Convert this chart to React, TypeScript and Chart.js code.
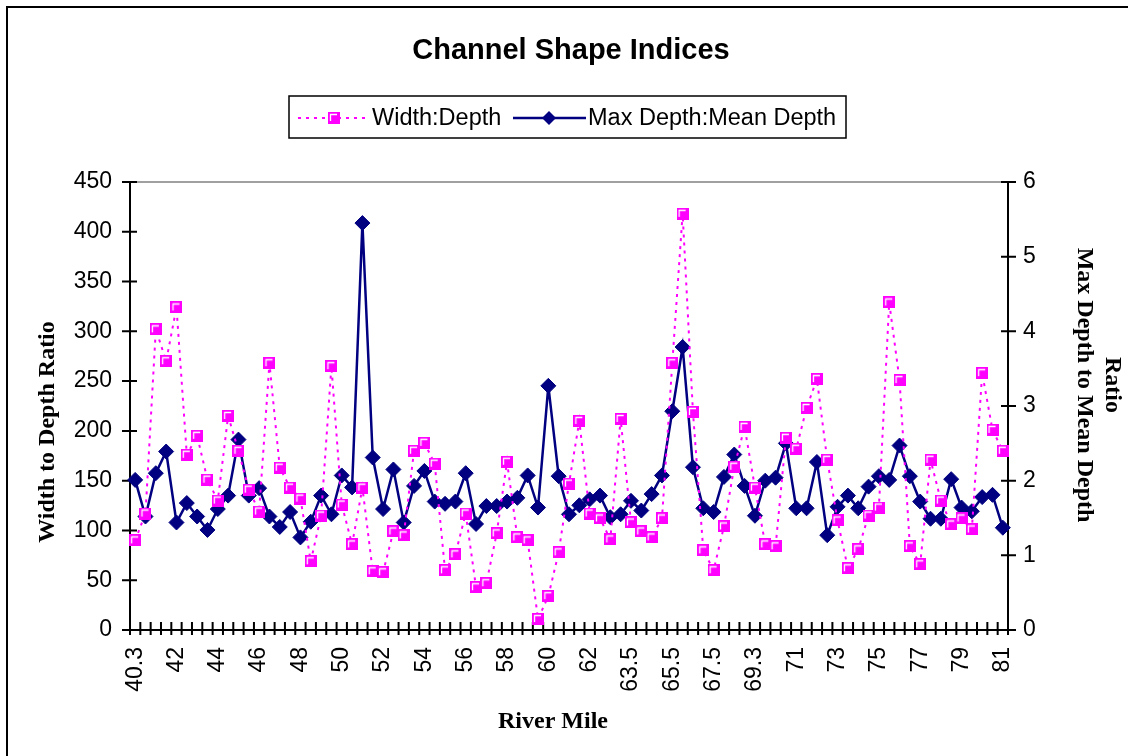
import React, { useEffect, useRef } from 'react';
import { Chart, registerables } from 'chart.js';

Chart.register(...registerables);

// River mile categories (every 4th is labelled on the axis)
const riverMiles: string[] = [
  '40.3', '40.7', '41', '41.5', '42', '42.5', '43', '43.5', '44', '44.5', '45', '45.5',
  '46', '46.5', '47', '47.5', '48', '48.5', '49', '49.5', '50', '50.5', '51', '51.5',
  '52', '52.5', '53', '53.5', '54', '54.5', '55', '55.5', '56', '56.5', '57', '57.5',
  '58', '58.5', '59', '59.5', '60', '60.5', '61', '61.5', '62', '62.4', '62.8', '63.1',
  '63.5', '64', '64.5', '65', '65.5', '66', '66.5', '67', '67.5', '68', '68.5', '69',
  '69.3', '69.7', '70', '70.5', '71', '71.5', '72', '72.5', '73', '73.5', '74', '74.5',
  '75', '75.5', '76', '76.5', '77', '77.5', '78', '78.5', '79', '79.5', '80', '80.5', '81',
];
const labelEvery = 4;

// Width:Depth (left axis)
const widthDepth: number[] = [
  90, 117, 302, 270, 324, 176, 195, 151, 130, 215, 180, 141,
  119, 268, 163, 143, 132, 69, 115, 265, 126, 86, 143, 59,
  58, 99, 95, 180, 188, 167, 60, 76, 117, 43, 47, 97,
  169, 93, 90, 11, 34, 78, 147, 210, 117, 112, 91, 212,
  108, 99, 93, 112, 268, 418, 219, 80, 60, 104, 164, 204,
  143, 86, 84, 193, 182, 223, 252, 171, 110, 62, 81, 115,
  123, 329, 251, 84, 66, 171, 130, 106, 112, 101, 258, 201, 180,
];

// Max Depth:Mean Depth (right axis)
const maxMeanDepth: number[] = [
  2.01, 1.52, 2.10, 2.39, 1.44, 1.70, 1.52, 1.34, 1.62, 1.80, 2.55, 1.80,
  1.90, 1.52, 1.38, 1.58, 1.24, 1.45, 1.80, 1.55, 2.07, 1.91, 5.45, 2.31,
  1.62, 2.15, 1.44, 1.93, 2.13, 1.72, 1.69, 1.72, 2.10, 1.42, 1.66, 1.66,
  1.72, 1.77, 2.07, 1.64, 3.27, 2.06, 1.55, 1.67, 1.75, 1.80, 1.51, 1.55,
  1.73, 1.60, 1.82, 2.07, 2.93, 3.79, 2.18, 1.63, 1.58, 2.05, 2.35, 1.93,
  1.53, 2.00, 2.04, 2.50, 1.63, 1.63, 2.25, 1.27, 1.65, 1.80, 1.63, 1.92,
  2.06, 2.01, 2.47, 2.06, 1.72, 1.49, 1.49, 2.02, 1.64, 1.59, 1.78, 1.81, 1.37,
];

const leftMax = 450;
const leftStep = 50;
const rightMax = 6;
const rightStep = 1;

const titleText = 'Channel Shape Indices';
const seriesNames = ['Width:Depth', 'Max Depth:Mean Depth'];
const leftTitle = 'Width to Depth Ratio';
const rightTitle = ['Max Depth to Mean Depth', 'Ratio'];
const bottomTitle = 'River Mile';

const PINK = '#FF00FF';
const NAVY = '#000080';
const SANS = '"Liberation Sans", Arial, sans-serif';
const SERIF = '"Liberation Serif", "Times New Roman", serif';

const W = 1128;
const H = 756;

function makeSquareMarker(): HTMLCanvasElement {
  const c = document.createElement('canvas');
  const s = 12;
  c.width = s;
  c.height = s;
  const g = c.getContext('2d')!;
  g.fillStyle = PINK;
  g.fillRect(0, 0, s, s);
  g.strokeStyle = '#FFFFFF';
  g.lineWidth = 1.3;
  g.beginPath();
  g.moveTo(2.5, 9);
  g.lineTo(2.5, 2.5);
  g.lineTo(9, 2.5);
  g.stroke();
  return c;
}

function drawDiamond(ctx: CanvasRenderingContext2D, x: number, y: number, r: number) {
  ctx.beginPath();
  ctx.moveTo(x, y - r);
  ctx.lineTo(x + r, y);
  ctx.lineTo(x, y + r);
  ctx.lineTo(x - r, y);
  ctx.closePath();
  ctx.fillStyle = NAVY;
  ctx.fill();
}

export default function App() {
  const canvasRef = useRef<HTMLCanvasElement | null>(null);

  useEffect(() => {
    const canvas = canvasRef.current;
    if (!canvas) return;
    const squareImg = makeSquareMarker();

    const framePlugin = {
      id: 'frame',
      beforeDatasetsDraw(chart: any) {
        const ctx: CanvasRenderingContext2D = chart.ctx;
        const a = chart.chartArea;
        const yL = chart.scales.y;
        const yR = chart.scales.y1;
        ctx.save();
        // top border of plot area (grey)
        ctx.strokeStyle = '#808080';
        ctx.lineWidth = 1.5;
        ctx.beginPath();
        ctx.moveTo(a.left, a.top);
        ctx.lineTo(a.right, a.top);
        ctx.stroke();
        // axes
        ctx.strokeStyle = '#000';
        ctx.lineWidth = 2;
        ctx.beginPath();
        ctx.moveTo(a.left, a.top);
        ctx.lineTo(a.left, a.bottom);
        ctx.lineTo(a.right, a.bottom);
        ctx.lineTo(a.right, a.top);
        ctx.stroke();
        // tick marks (x ticks between categories)
        const n = riverMiles.length;
        ctx.beginPath();
        for (let i = 0; i <= n; i++) {
          const x = a.left + (i * (a.right - a.left)) / n;
          ctx.moveTo(x, a.bottom - 8);
          ctx.lineTo(x, a.bottom + 5);
        }
        for (let v = 0; v <= leftMax; v += leftStep) {
          const y = yL.getPixelForValue(v);
          ctx.moveTo(a.left - 8, y);
          ctx.lineTo(a.left + 7, y);
        }
        for (let v = 0; v <= rightMax; v += rightStep) {
          const y = yR.getPixelForValue(v);
          ctx.moveTo(a.right - 7, y);
          ctx.lineTo(a.right + 8, y);
        }
        ctx.stroke();
        ctx.restore();
      },
      afterDraw(chart: any) {
        const ctx: CanvasRenderingContext2D = chart.ctx;
        ctx.save();
        // outer frame
        ctx.strokeStyle = '#000';
        ctx.lineWidth = 2;
        ctx.strokeRect(7, 7, W + 20, H + 20);

        // title
        ctx.fillStyle = '#000';
        ctx.font = `bold 29px ${SANS}`;
        ctx.textAlign = 'center';
        ctx.textBaseline = 'middle';
        ctx.fillText(titleText, 571, 51);

        // legend
        ctx.lineWidth = 1.5;
        ctx.strokeStyle = '#000';
        ctx.strokeRect(289, 96, 557, 42);
        ctx.strokeStyle = PINK;
        ctx.lineWidth = 2;
        ctx.setLineDash([3, 5]);
        ctx.beginPath();
        ctx.moveTo(298, 118);
        ctx.lineTo(368, 118);
        ctx.stroke();
        ctx.setLineDash([]);
        ctx.drawImage(squareImg, 334 - 6, 118 - 6);
        ctx.strokeStyle = NAVY;
        ctx.lineWidth = 2.5;
        ctx.beginPath();
        ctx.moveTo(513, 118);
        ctx.lineTo(586, 118);
        ctx.stroke();
        drawDiamond(ctx, 549, 118, 7);
        ctx.fillStyle = '#000';
        ctx.font = `23.5px ${SANS}`;
        ctx.textAlign = 'left';
        ctx.textBaseline = 'middle';
        ctx.fillText(seriesNames[0], 372, 119);
        ctx.fillText(seriesNames[1], 588, 119);

        // axis titles
        ctx.font = `bold 24px ${SERIF}`;
        ctx.textAlign = 'center';
        ctx.textBaseline = 'middle';
        ctx.fillText(bottomTitle, 553, 722);

        ctx.save();
        ctx.translate(48, 432);
        ctx.rotate(-Math.PI / 2);
        ctx.fillText(leftTitle, 0, 0);
        ctx.restore();

        ctx.save();
        ctx.translate(1084, 385);
        ctx.rotate(Math.PI / 2);
        ctx.fillText(rightTitle[0], 0, 0);
        ctx.fillText(rightTitle[1], 0, -28);
        ctx.restore();

        ctx.restore();
      },
    };

    const tickFont = { family: SANS, size: 23 };

    const chart = new Chart(canvas, {
      type: 'line',
      data: {
        labels: riverMiles,
        datasets: [
          {
            label: seriesNames[0],
            data: widthDepth,
            yAxisID: 'y',
            borderColor: PINK,
            backgroundColor: PINK,
            borderWidth: 2,
            borderDash: [3, 5],
            pointStyle: squareImg as any,
            pointRadius: 6,
            tension: 0,
            clip: false as any,
            order: 0,
          },
          {
            label: seriesNames[1],
            data: maxMeanDepth,
            yAxisID: 'y1',
            borderColor: NAVY,
            backgroundColor: NAVY,
            pointBackgroundColor: NAVY,
            pointBorderColor: NAVY,
            borderWidth: 2.5,
            pointStyle: 'rectRot',
            pointRadius: 7.5,
            pointBorderWidth: 1,
            tension: 0,
            clip: false as any,
            order: 1,
          },
        ],
      },
      options: {
        responsive: false,
        animation: false,
        devicePixelRatio: 1,
        events: [],
        layout: { padding: { top: 182, left: 0, right: 0, bottom: 0 } },
        plugins: {
          legend: { display: false },
          title: { display: false },
          tooltip: { enabled: false },
        },
        scales: {
          x: {
            type: 'category',
            offset: true,
            grid: { display: false, drawTicks: false, offset: true },
            border: { display: false },
            ticks: {
              autoSkip: false,
              minRotation: 90,
              maxRotation: 90,
              padding: 17,
              color: '#000',
              font: tickFont,
              callback: (_v: any, i: number) => (i % labelEvery === 0 ? riverMiles[i] : ''),
            },
            afterFit: (s: any) => {
              s.height = 126;
            },
          },
          y: {
            position: 'left',
            min: 0,
            max: leftMax,
            grid: { display: false, drawTicks: false },
            border: { display: false },
            ticks: { stepSize: leftStep, padding: 18, color: '#000', font: tickFont },
            afterFit: (s: any) => {
              s.width = 130;
            },
          },
          y1: {
            position: 'right',
            min: 0,
            max: rightMax,
            grid: { display: false, drawTicks: false },
            border: { display: false },
            ticks: { stepSize: rightStep, padding: 15, color: '#000', font: tickFont },
            afterFit: (s: any) => {
              s.width = 120;
            },
          },
        },
      } as any,
      plugins: [framePlugin],
    });

    return () => {
      chart.destroy();
    };
  }, []);

  return (
    <div style={{ position: 'absolute', left: 0, top: 0, width: W, height: H, background: '#fff' }}>
      <canvas ref={canvasRef} width={W} height={H} style={{ display: 'block', width: W, height: H }} />
    </div>
  );
}
